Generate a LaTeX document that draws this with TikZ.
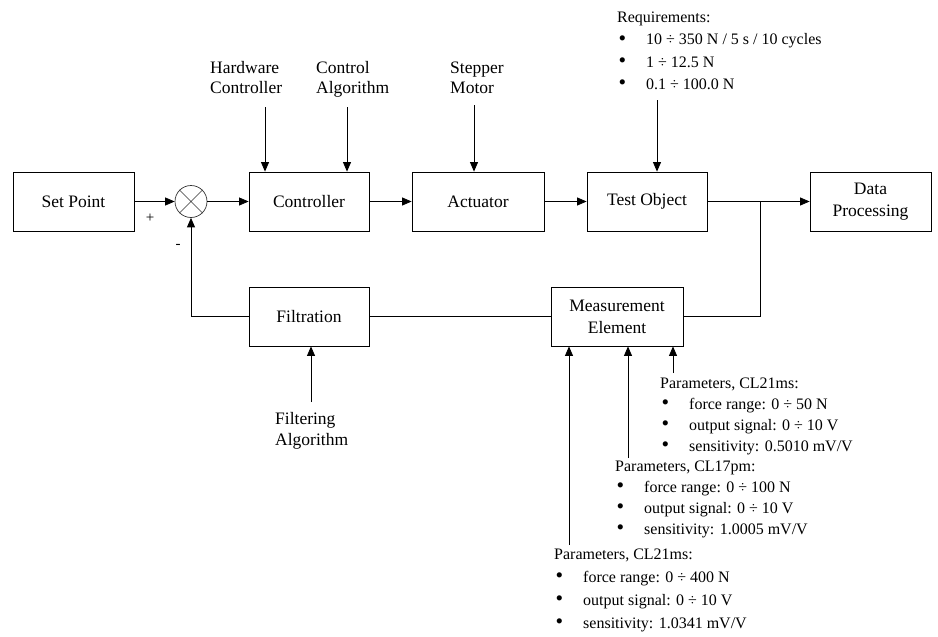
\documentclass[tikz,border=0pt]{standalone}
\usepackage{fontspec}
\setmainfont{Liberation Serif}
\usetikzlibrary{arrows.meta}
\newcommand\mybul{\makebox[29pt][l]{\hspace{1.5pt}\smash{\raisebox{-0.4pt}{\scalebox{1.35}{•}}}}}
\begin{document}
\begin{tikzpicture}[x=1pt,y=-1pt,
  box/.style={draw, line width=0.8pt, minimum height=59pt, inner sep=0pt, align=center, font=\fontsize{17.5}{22}\selectfont},
  lbl/.style={inner sep=0pt, anchor=base west, font=\fontsize{17.5}{22}\selectfont},
  anno/.style={inner sep=0pt, anchor=base west, font=\fontsize{16}{20}\selectfont},
  sign/.style={inner sep=0pt, font=\fontsize{15}{18}\selectfont},
  wire/.style={line width=0.8pt},
  arr/.style={wire, -{Triangle[length=9.5pt,width=8pt]}},
]
\useasboundingbox (0,0) rectangle (938,637);

% main row
\node[box, minimum width=121pt] (sp) at (73.5,201.5) {Set Point};
\node[draw, circle, minimum size=32pt, inner sep=0pt, line width=0.7pt, draw=black!80] (sum) at (191,201.5) {};
\draw[line width=0.6pt, black!80] (sum.north west) -- (sum.south east) (sum.north east) -- (sum.south west);
\node[box, minimum width=120pt] (ctrl) at (309,201.5) {Controller};
\node[box, minimum width=132pt] (act) at (478,201.5) {Actuator};
\node[box, minimum width=120pt] (test) at (647,201.5) {Test Object};
\node[box, minimum width=121pt] (dp) at (870.5,201.5) {Data\\Processing};

% feedback row
\node[box, minimum width=120pt] (filt) at (309,316.5) {Filtration};
\node[box, minimum width=132pt] (meas) at (617,316.5) {Measurement\\Element};

% signs
\node[sign] (plus) at (150,218) {+};
\node[sign] (minus) at (178,246) {-};

% connectors
\draw[arr] (sp) -- (sum);
\draw[arr] (sum) -- (ctrl);
\draw[arr] (ctrl) -- (act);
\draw[arr] (act) -- (test);
\draw[arr] (test) -- (dp);
\coordinate (junc) at (760,201.5);
\draw[wire] (junc) |- (meas.east);
\draw[wire] (meas) -- (filt);
\draw[arr] (filt.west) -| (sum.south);

% top labels
\node[lbl] (hw1) at (210,73) {Hardware};
\node[lbl] (hw2) at (210,93) {Controller};
\node[lbl] (ca1) at (316,73) {Control};
\node[lbl] (ca2) at (316,93) {Algorithm};
\node[lbl] (sm1) at (450,73) {Stepper};
\node[lbl] (sm2) at (450,93) {Motor};
\coordinate (hwA) at (265,107);
\coordinate (caA) at (347,107);
\coordinate (smA) at (474,105);
\draw[arr] (hwA) -- (hwA |- ctrl.north);
\draw[arr] (caA) -- (caA |- ctrl.north);
\draw[arr] (smA) -- (smA |- act.north);

% requirements
\node[anno] (rq0) at (617,23) {Requirements:};
\node[anno] (rq1) at (617,45) {\mybul 10 ÷ 350 N / 5 s / 10 cycles};
\node[anno] (rq2) at (617,67) {\mybul 1 ÷ 12.5 N};
\node[anno] (rq3) at (617,89) {\mybul 0.1 ÷ 100.0 N};
\coordinate (rqA) at (657,100);
\draw[arr] (rqA) -- (rqA |- test.north);

% filtering algorithm
\node[lbl] (fa1) at (275,424) {Filtering};
\node[lbl] (fa2) at (275,445) {Algorithm};
\coordinate (faA) at (311,402);
\draw[arr] (faA) -- (faA |- filt.south);

% parameters lists
\node[anno] (pa0) at (660,388) {Parameters, CL21ms:};
\node[anno] (pa1) at (660,409) {\mybul force range: 0 ÷ 50 N};
\node[anno] (pa2) at (660,430) {\mybul output signal: 0 ÷ 10 V};
\node[anno] (pa3) at (660,451) {\mybul sensitivity: 0.5010 mV/V};

\node[anno] (pb0) at (615,471) {Parameters, CL17pm:};
\node[anno] (pb1) at (615,492) {\mybul force range: 0 ÷ 100 N};
\node[anno] (pb2) at (615,513) {\mybul output signal: 0 ÷ 10 V};
\node[anno] (pb3) at (615,534) {\mybul sensitivity: 1.0005 mV/V};

\node[anno] (pc0) at (554,559) {Parameters, CL21ms:};
\node[anno] (pc1) at (554,582) {\mybul force range: 0 ÷ 400 N};
\node[anno] (pc2) at (554,605) {\mybul output signal: 0 ÷ 10 V};
\node[anno] (pc3) at (554,628) {\mybul sensitivity: 1.0341 mV/V};

\coordinate (paA) at (673,373);
\coordinate (pbA) at (628,458);
\coordinate (pcA) at (569,545);
\draw[arr] (paA) -- (paA |- meas.south);
\draw[arr] (pbA) -- (pbA |- meas.south);
\draw[arr] (pcA) -- (pcA |- meas.south);
\end{tikzpicture}
\end{document}
